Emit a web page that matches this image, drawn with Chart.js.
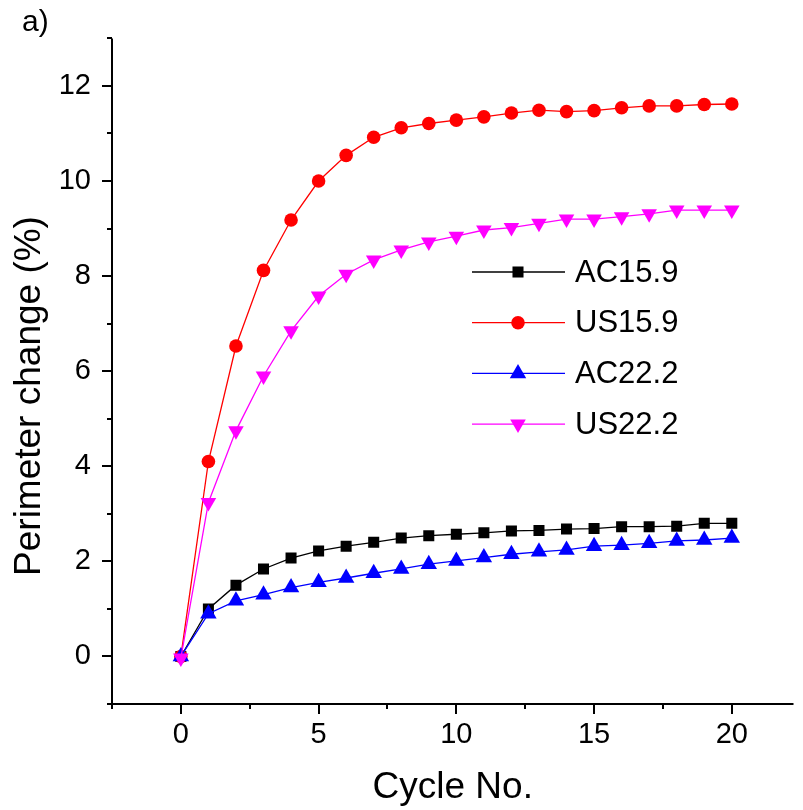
<!DOCTYPE html>
<html>
<head>
<meta charset="utf-8">
<script src="https://cdn.jsdelivr.net/npm/chart.js@4.4.0/dist/chart.umd.min.js"></script>
<style>
  html, body { margin: 0; padding: 0; background: #fff; }
  #wrap { width: 803px; height: 810px; }
</style>
</head>
<body>
<div id="wrap"><canvas id="chart" width="803" height="810"></canvas></div>
<script>
var cycles = [0, 1, 2, 3, 4, 5, 6, 7, 8, 9, 10, 11, 12, 13, 14, 15, 16, 17, 18, 19, 20];
var ac159 = [0, 1.0, 1.5, 1.84, 2.07, 2.22, 2.32, 2.4, 2.49, 2.54, 2.57, 2.6, 2.64, 2.65, 2.68, 2.69, 2.73, 2.73, 2.74, 2.8, 2.8];
var us159 = [0, 4.1, 6.53, 8.12, 9.18, 10.0, 10.54, 10.92, 11.12, 11.21, 11.28, 11.35, 11.43, 11.49, 11.46, 11.48, 11.54, 11.58, 11.58, 11.61, 11.62];
var ac222 = [0, 0.9, 1.17, 1.3, 1.45, 1.56, 1.65, 1.75, 1.84, 1.94, 2.01, 2.08, 2.15, 2.2, 2.24, 2.32, 2.34, 2.38, 2.43, 2.45, 2.49];
var us222 = [-0.03, 3.24, 4.75, 5.9, 6.85, 7.58, 8.04, 8.34, 8.55, 8.72, 8.84, 8.97, 9.02, 9.11, 9.2, 9.2, 9.25, 9.31, 9.39, 9.39, 9.39];

var seriesNames = ['AC15.9', 'US15.9', 'AC22.2', 'US22.2'];
var xMajor = [0, 5, 10, 15, 20];
var xMinor = [-2.5, 2.5, 7.5, 12.5, 17.5];
var yMajor = [0, 2, 4, 6, 8, 10, 12];
var yMinor = [-1, 1, 3, 5, 7, 9, 11, 13];
var xTitle = 'Cycle No.';
var yTitle = 'Perimeter change (%)';
var panelLabel = 'a)';

var FONT = "'Liberation Sans', Arial, sans-serif";

function points(values) {
  return cycles.map(function(c, i) { return {x: c, y: values[i]}; });
}

function sortedTicks(a, b) {
  return a.concat(b).sort(function(p, q) { return p - q; }).map(function(v) { return {value: v}; });
}

var styles = [
  {color: '#000000', pointStyle: 'rect', radius: 7.8, rotation: 0},
  {color: '#ff0000', pointStyle: 'circle', radius: 6.8, rotation: 0},
  {color: '#0000ff', pointStyle: 'triangle', radius: 9.5, rotation: 0},
  {color: '#ff00ff', pointStyle: 'triangle', radius: 9, rotation: 180}
];
var seriesData = [ac159, us159, ac222, us222];

var datasets = seriesData.map(function(vals, i) {
  var s = styles[i];
  return {
    label: seriesNames[i],
    data: points(vals),
    borderColor: s.color,
    backgroundColor: s.color,
    borderWidth: 1.3,
    pointStyle: s.pointStyle,
    pointRadius: s.radius,
    pointRotation: s.rotation,
    pointBorderWidth: 0,
    pointBackgroundColor: s.color,
    tension: 0,
    order: 4 - i
  };
});

// axes, ticks, y title, panel label and legend drawn by hand
var decorations = {
  id: 'decorations',
  afterDraw: function(chart) {
    var ctx = chart.ctx;
    var area = chart.chartArea;
    var xs = chart.scales.x, ys = chart.scales.y;
    ctx.save();
    ctx.strokeStyle = '#000';
    ctx.lineWidth = 2;
    ctx.beginPath();
    ctx.moveTo(area.left, area.top);
    ctx.lineTo(area.left, area.bottom);
    ctx.lineTo(area.right, area.bottom);
    ctx.stroke();

    ctx.beginPath();
    yMajor.forEach(function(v) {
      var py = Math.round(ys.getPixelForValue(v));
      ctx.moveTo(area.left - 10, py); ctx.lineTo(area.left, py);
    });
    yMinor.forEach(function(v) {
      var py = Math.round(ys.getPixelForValue(v));
      ctx.moveTo(area.left - 5, py); ctx.lineTo(area.left, py);
    });
    xMajor.forEach(function(v) {
      var px = Math.round(xs.getPixelForValue(v));
      ctx.moveTo(px, area.bottom); ctx.lineTo(px, area.bottom + 10);
    });
    xMinor.forEach(function(v) {
      var px = Math.round(xs.getPixelForValue(v));
      ctx.moveTo(px, area.bottom); ctx.lineTo(px, area.bottom + 5);
    });
    ctx.stroke();

    ctx.fillStyle = '#000';
    ctx.save();
    ctx.translate(30, 396);
    ctx.rotate(-Math.PI / 2);
    ctx.font = '37px ' + FONT;
    ctx.textAlign = 'center';
    ctx.textBaseline = 'middle';
    ctx.fillText(yTitle, 0, 0);
    ctx.restore();

    ctx.font = '30px ' + FONT;
    ctx.textAlign = 'left';
    ctx.textBaseline = 'alphabetic';
    ctx.fillText(panelLabel, 22, 31);

    // legend
    chart.data.datasets.forEach(function(ds, i) {
      var y = 272 + i * 50.7;
      ctx.strokeStyle = ds.borderColor;
      ctx.lineWidth = ds.borderWidth;
      ctx.beginPath();
      ctx.moveTo(472, y); ctx.lineTo(565, y);
      ctx.stroke();
      ctx.fillStyle = ds.pointBackgroundColor;
      ctx.strokeStyle = ds.pointBackgroundColor;
      ctx.lineWidth = 0.01;
      Chart.helpers.drawPoint(ctx, {pointStyle: ds.pointStyle, radius: ds.pointRadius, rotation: ds.pointRotation, borderWidth: 0}, 518, y);
      ctx.fillStyle = '#000';
      ctx.font = '31px ' + FONT;
      ctx.textBaseline = 'middle';
      ctx.fillText(ds.label, 575, y + 1);
    });
    ctx.restore();
  }
};

new Chart(document.getElementById('chart'), {
  type: 'line',
  data: {datasets: datasets},
  options: {
    responsive: false,
    animation: false,
    layout: {padding: {top: 38, left: 0, right: 0, bottom: 0}},
    plugins: {legend: {display: false}, tooltip: {enabled: false}},
    scales: {
      x: {
        type: 'linear',
        min: -2.5,
        max: 22.24,
        afterBuildTicks: function(scale) { scale.ticks = sortedTicks(xMajor, xMinor); },
        afterFit: function(scale) { scale.height = 106; },
        grid: {display: false, drawTicks: false},
        border: {display: false},
        ticks: {
          autoSkip: false,
          maxRotation: 0,
          padding: 14,
          color: '#000',
          font: {family: FONT, size: 29},
          callback: function(v) { return xMajor.indexOf(v) >= 0 ? String(v) : null; }
        },
        title: {display: true, text: xTitle, color: '#000', font: {family: FONT, size: 37}, padding: {top: 0, bottom: 0}}
      },
      y: {
        type: 'linear',
        min: -1,
        max: 13,
        afterBuildTicks: function(scale) { scale.ticks = sortedTicks(yMajor, yMinor); },
        afterFit: function(scale) { scale.width = 112; },
        grid: {display: false, drawTicks: false},
        border: {display: false},
        ticks: {
          autoSkip: false,
          padding: 21,
          color: '#000',
          font: {family: FONT, size: 29},
          callback: function(v) { return yMajor.indexOf(v) >= 0 ? String(v) : null; }
        }
      }
    }
  },
  plugins: [decorations]
});
</script>
</body>
</html>
